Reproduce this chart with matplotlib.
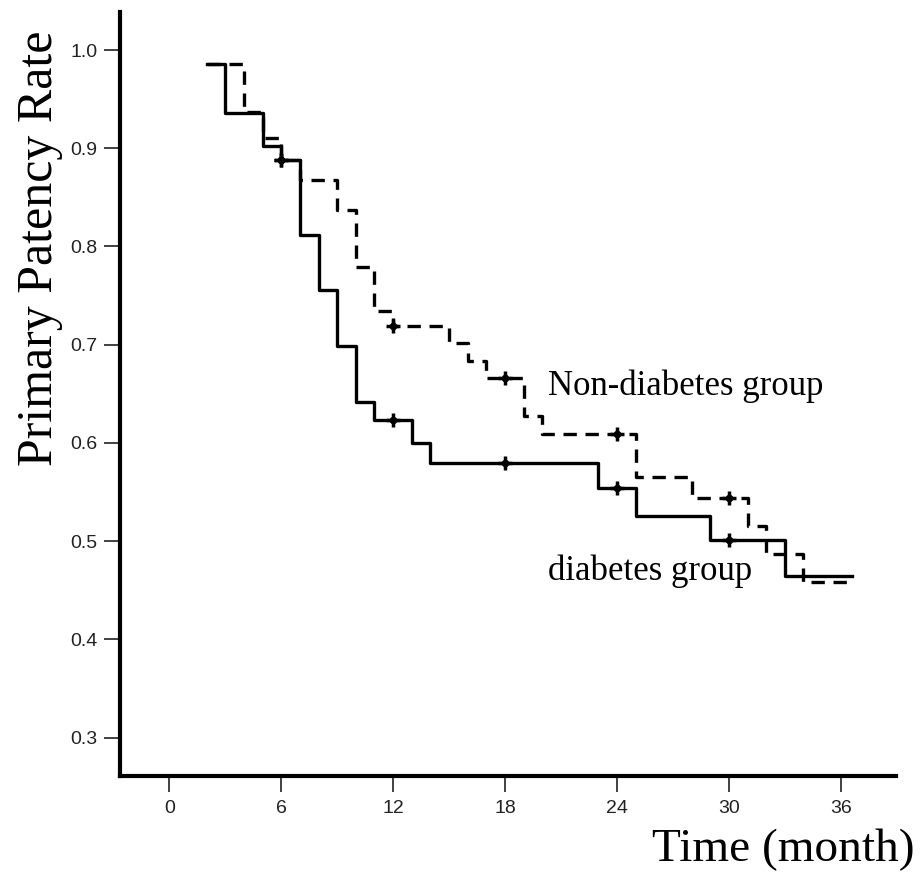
import matplotlib
matplotlib.use("Agg")
import matplotlib.pyplot as plt

# Kaplan-Meier style step data (months, patency rate)
diab_t = [2, 3, 5, 6, 7, 8, 9, 10, 11, 13, 14, 23, 25, 29, 33, 36.6]
diab_s = [0.986, 0.936, 0.902, 0.888, 0.812, 0.756, 0.699, 0.642, 0.623,
          0.600, 0.580, 0.554, 0.526, 0.501, 0.465, 0.465]
diab_cens_t = [6, 12, 18, 24, 30]
diab_cens_s = [0.888, 0.623, 0.580, 0.554, 0.501]

nondiab_t = [2, 4, 5, 6, 7, 9, 10, 11, 12, 15, 16, 17, 19, 20, 25, 28, 31, 32, 34, 36.6]
nondiab_s = [0.986, 0.937, 0.910, 0.888, 0.868, 0.837, 0.779, 0.734, 0.719, 0.702,
             0.683, 0.666, 0.627, 0.609, 0.565, 0.544, 0.515, 0.487, 0.458, 0.458]
nondiab_cens_t = [6, 12, 18, 24, 30]
nondiab_cens_s = [0.888, 0.719, 0.666, 0.609, 0.544]

xticks = [0, 6, 12, 18, 24, 30, 36]
yticks = [0.3, 0.4, 0.5, 0.6, 0.7, 0.8, 0.9, 1.0]

serif = "Liberation Serif"
sans = "Liberation Sans"

fig = plt.figure(figsize=(9.22, 8.76), dpi=100)
ax = fig.add_axes([0.1302, 0.1142, 0.9718 - 0.1302, 0.9863 - 0.1142])

ax.step(nondiab_t, nondiab_s, where="post", color="black", lw=2.4,
        linestyle=(0, (4, 2.6)))
ax.step(diab_t, diab_s, where="post", color="black", lw=2.4)
# censored cases: small plus with a heavy centre
for ct, cs in [(nondiab_cens_t, nondiab_cens_s), (diab_cens_t, diab_cens_s)]:
    ax.plot(ct, cs, ls="none", marker="+", ms=10, mew=2.5, color="black")
    ax.plot(ct, cs, ls="none", marker="o", ms=4.5, color="black")

ax.set_xlim(-2.64, 38.96)
ax.set_ylim(0.261, 1.0387)

ax.spines["top"].set_visible(False)
ax.spines["right"].set_visible(False)
for s in ["left", "bottom"]:
    ax.spines[s].set_linewidth(3)

ax.set_xticks(xticks)
ax.set_xticklabels([str(t) for t in xticks])
ax.set_yticks(yticks)
ax.set_yticklabels([f"{v:.1f}" for v in yticks])
ax.tick_params(axis="both", direction="out", length=11.5, width=1.3, color="#333333",
               labelsize=14, labelcolor="#222222")
ax.tick_params(axis="x", pad=6)
ax.tick_params(axis="y", pad=5)
for lab in ax.get_xticklabels() + ax.get_yticklabels():
    lab.set_family(sans)

ax.text(20.3, 0.658, "Non-diabetes group", fontsize=25, family=serif,
        ha="left", va="center")
ax.text(20.3, 0.4695, "diabetes group", fontsize=25, family=serif,
        ha="left", va="center")

fig.text(40 / 922, 1 - 248 / 876, "Primary Patency Rate", rotation=90, fontsize=36,
         family=serif, ha="center", va="center")
fig.text(915 / 922, 1 - 850 / 876, "Time (month)", fontsize=34, family=serif,
         ha="right", va="center")

fig.savefig("out.png", dpi=100)
